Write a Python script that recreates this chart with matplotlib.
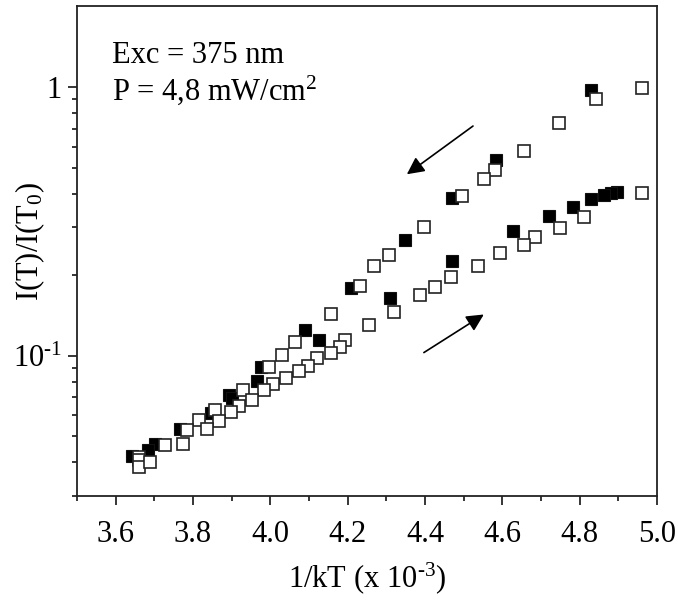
import numpy as np
import matplotlib
matplotlib.use('Agg')
from matplotlib import pyplot as plt
from matplotlib.ticker import FixedLocator, FuncFormatter, NullFormatter

plt.rcParams['font.family'] = ['Liberation Serif', 'DejaVu Serif']
plt.rcParams['mathtext.fontset'] = 'custom'
plt.rcParams['mathtext.rm'] = 'Liberation Serif'
plt.rcParams['mathtext.it'] = 'Liberation Serif:italic'
plt.rcParams['mathtext.bf'] = 'Liberation Serif:bold'

# filled squares (both branches)
filled_x = [4.829, 4.584, 4.470, 4.348, 4.209, 4.090, 4.126, 3.976, 3.965, 3.893,
            3.901, 3.847, 3.766, 3.702, 3.684, 3.642,
            4.896, 4.881, 4.863, 4.829, 4.783, 4.721, 4.627, 4.470, 4.309]
filled_y = [0.975, 0.534, 0.385, 0.2686, 0.178, 0.125, 0.1138, 0.0910, 0.0807, 0.0715,
            0.0697, 0.0613, 0.0534, 0.0469, 0.0446, 0.0423,
            0.4057, 0.402, 0.3954, 0.382, 0.3566, 0.330, 0.290, 0.2242, 0.1632]

# open squares (both branches)
open_x = [4.842, 4.961, 4.746, 4.656, 4.581, 4.552, 4.496, 4.397, 4.307, 4.268,
          4.232, 4.157, 4.064, 4.030, 3.997, 3.929, 3.857, 3.815, 3.784, 3.728,
          3.660, 3.660, 3.660, 3.689,
          4.961, 4.811, 4.749, 4.684, 4.656, 4.594, 4.537, 4.467, 4.426, 4.387,
          4.320, 4.255, 4.193, 4.180, 4.157, 4.121, 4.097, 4.074, 4.040, 4.007,
          3.984, 3.953, 3.919, 3.898, 3.867, 3.836, 3.774]
open_y = [0.902, 0.991, 0.734, 0.577, 0.490, 0.4535, 0.392, 0.3003, 0.236, 0.2148,
          0.181, 0.1434, 0.1128, 0.1009, 0.091, 0.0747, 0.0629, 0.0577, 0.0530, 0.0466,
          0.0420, 0.0409, 0.0385, 0.0402,
          0.402, 0.327, 0.298, 0.2756, 0.2573, 0.2401, 0.2148, 0.1954, 0.1794, 0.1675,
          0.1447, 0.1294, 0.1138, 0.108, 0.1026, 0.0983, 0.0918, 0.0879, 0.0828, 0.0786,
          0.0747, 0.0685, 0.0651, 0.0618, 0.0572, 0.0534, 0.0469]

x_ticks = [3.6, 3.8, 4.0, 4.2, 4.4, 4.6, 4.8, 5.0]
x_minor = [3.5, 3.7, 3.9, 4.1, 4.3, 4.5, 4.7, 4.9]
y_ticks = [0.1, 1.0]

fig = plt.figure(figsize=(6.78, 6.02), dpi=100)
ax = fig.add_axes([0.1136, 0.176, 0.8555, 0.814])

ax.plot(filled_x, filled_y, 's', ms=8.5, mfc='black', mec='#111111', mew=0.8, ls='none')
ax.plot(open_x, open_y, 's', ms=8, mfc='white', mec='#222222', mew=1.2, ls='none')

ax.set_yscale('log')
ax.set_xlim(3.5, 5.0)
ax.set_ylim(0.03, 2.0)

ax.xaxis.set_major_locator(FixedLocator(x_ticks))
ax.xaxis.set_minor_locator(FixedLocator(x_minor))
ax.set_xticklabels(['%.1f' % v for v in x_ticks])

ax.yaxis.set_major_locator(FixedLocator(y_ticks))
ax.yaxis.set_major_formatter(FuncFormatter(lambda v, p: '1' if v >= 1 else r'10$^{\text{-}1}$'))
minors = [k * 0.01 for k in range(3, 10)] + [k * 0.1 for k in range(2, 10)]
ax.yaxis.set_minor_locator(FixedLocator(minors))
ax.yaxis.set_minor_formatter(NullFormatter())

ax.tick_params(which='major', direction='out', length=6.5, width=1.1, labelsize=22,
               top=False, right=False)
ax.tick_params(which='minor', direction='out', length=3.6, width=1.1, top=False, right=False)
ax.tick_params(axis='x', which='major', pad=11)
ax.tick_params(axis='y', which='major', pad=4.5)
for s in ax.spines.values():
    s.set_linewidth(1.3)
    s.set_color('#222222')

ax.set_xlabel(r'1/kT (x 10$^{\text{-}3}$)', fontsize=22, labelpad=8)
ax.set_ylabel(r'I(T)/I(T$_0$)', fontsize=22)
ax.yaxis.set_label_coords(-0.052, 0.52)

ax.text(3.591, 1.229, 'Exc = 375 nm', fontsize=22, va='baseline', ha='left')
ax.text(3.591, 0.894, r'P = 4,8 mW/cm$^2$', fontsize=22, va='baseline', ha='left')

arrow = dict(arrowstyle='-|>', mutation_scale=26, lw=1.2, color='black', shrinkA=0, shrinkB=0)
ax.annotate('', xy=(4.353, 0.473), xytext=(4.524, 0.715), arrowprops=arrow)
ax.annotate('', xy=(4.552, 0.1422), xytext=(4.397, 0.1026), arrowprops=arrow)

fig.savefig('out.png', dpi=100)
